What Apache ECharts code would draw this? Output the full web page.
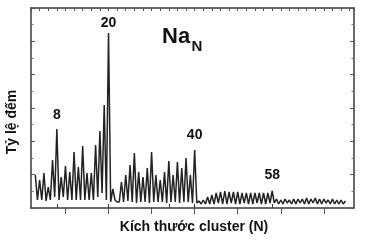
<!DOCTYPE html>
<html><head><meta charset="utf-8">
<script src="https://cdn.jsdelivr.net/npm/echarts@6/dist/echarts.min.js"></script>
<style>html,body{margin:0;padding:0;background:#fff}#c{width:365px;height:240px}</style>
</head><body><div id="c"></div>
<script>
// Cluster sizes N at the peaks and their counts (arbitrary units)
const peakSizes = [3,4,5,6,7,8,9,10,11,12,13,14,15,16,17,18,19,20,21,22,
  23,24,25,26,27,28,29,30,31,32,33,34,35,36,37,38,39,40,
  41,42,43,44,45,46,47,48,49,50,51,52,53,54,55,56,57,58,
  59,60,61,62,63,64,65,66,67,68,69,70,71,72,73,74,75];
const peakCounts = [33,28,35,21,48,79,31,42,36,56,41,62,35,35,63,77,103,175,19,6,
  26,33,43,55,36,31,40,56,33,28,36,47,33,46,40,50,33,58,
  7,8,11,13,15,16,17,16,16,16,15,15,15,15,15,15,15,17,
  9,8,9,8,9,9,9,10,9,10,9,9,8,9,8,8,7];
// Minima between neighbouring peaks
const troughSizes = [3.5,4.5,5.5,6.5,7.5,8.5,9.5,10.5,11.5,12.5,13.5,14.5,15.5,16.5,17.5,18.5,19.5,20.5,21.5,22.5,
  23.5,24.5,25.5,26.5,27.5,28.5,29.5,30.5,31.5,32.5,33.5,34.5,35.5,36.5,37.5,38.5,39.5,
  40.5,41.5,42.5,43.5,44.5,45.5,46.5,47.5,48.5,49.5,50.5,51.5,52.5,53.5,54.5,55.5,56.5,57.5,
  58.5,59.5,60.5,61.5,62.5,63.5,64.5,65.5,66.5,67.5,68.5,69.5,70.5,71.5,72.5,73.5,74.5];
const troughCounts = [8,8,7,8,11,8,11,8,8,8,8,8,8,8,11,15,8,6,8,6,
  6,7,6,5,6,6,5,6,6,6,5,6,6,5,6,6,5,
  5,4,4,4,4,5,4,4,5,4,4,5,4,4,5,4,4,5,
  5,4,4,5,4,4,5,4,4,5,4,4,5,4,4,4,4];
// Annotated magic numbers
const magicLabels = ['8','20','40','58'];
const magicSizes = [8,20,40,58];
const bottomTicks = [8,20,34,40,58];
const topMajorTicks = [10,20,30,40,50,60,70];

const pts = [];
peakSizes.forEach((n,i)=>pts.push([n, peakCounts[i]]));
troughSizes.forEach((n,i)=>pts.push([n, troughCounts[i]]));
pts.sort((a,b)=>a[0]-b[0]);

const labelOffsets = [-14,-10,-15,-16];
const mp = magicSizes.map((n,i)=>({
  coord:[n, peakCounts[peakSizes.indexOf(n)]],
  value: magicLabels[i],
  label:{offset:[0, labelOffsets[i]]}
}));

const frame = {color:'#3a3a3a', width:1.5};
const font = '"Liberation Sans", Arial, sans-serif';
const chart = echarts.init(document.getElementById('c'), null, {renderer:'canvas'});
chart.setOption({
  animation:false,
  grid:{left:31, right:11, top:8, bottom:32},
  xAxis:[
    {type:'value', position:'bottom', min:2, max:77,
     axisLine:{show:true, lineStyle:frame},
     axisTick:{show:true, inside:true, length:4, customValues:bottomTicks, lineStyle:{color:'#3a3a3a', width:1}},
     axisLabel:{show:false}, splitLine:{show:false}},
    {type:'value', position:'top', min:2, max:77, interval:2,
     axisLine:{show:true, onZero:false, lineStyle:frame},
     axisTick:{show:true, inside:true, length:3, lineStyle:{color:'#555', width:1}},
     axisLabel:{show:false}, splitLine:{show:false}},
    {type:'value', position:'top', min:2, max:77,
     axisLine:{show:false},
     axisTick:{show:true, inside:true, length:6, customValues:topMajorTicks, lineStyle:{color:'#555', width:1}},
     axisLabel:{show:false}, splitLine:{show:false}}
  ],
  yAxis:[
    {type:'value', position:'left', min:0, max:200, interval:200/6,
     axisLine:{show:true, lineStyle:frame},
     axisTick:{show:true, inside:true, length:4, lineStyle:{color:'#555', width:1}},
     minorTick:{show:true, splitNumber:2, length:2.5, lineStyle:{color:'#777', width:1}},
     axisLabel:{show:false}, splitLine:{show:false}},
    {type:'value', position:'right', min:0, max:200, interval:200/6,
     axisLine:{show:true, lineStyle:frame},
     axisTick:{show:true, inside:true, length:4, lineStyle:{color:'#555', width:1}},
     minorTick:{show:true, splitNumber:2, length:2.5, lineStyle:{color:'#777', width:1}},
     axisLabel:{show:false}, splitLine:{show:false}}
  ],
  series:[{
    type:'line', xAxisIndex:0, yAxisIndex:0, data:pts, symbol:'none',
    lineStyle:{color:'#222', width:1.5},
    markPoint:{
      symbol:'circle', symbolSize:1, itemStyle:{color:'rgba(0,0,0,0)'},
      label:{show:true, position:'inside', formatter:'{c}', color:'#111',
        fontFamily:font, fontWeight:'bold', fontSize:14},
      data:mp
    }
  }],
  graphic:[
    {type:'text', x:162, y:37, style:{text:'Na', font:'bold 22px '+font, fill:'#111', textVerticalAlign:'middle'}},
    {type:'text', x:191.5, y:47, style:{text:'N', font:'bold 15px '+font, fill:'#111', textVerticalAlign:'middle'}},
    {type:'text', x:194, y:227, style:{text:'Kích thước cluster (N)', font:'bold 14px '+font, fill:'#111', textAlign:'center', textVerticalAlign:'middle'}},
    {type:'text', x:12, y:122, rotation:Math.PI/2, style:{text:'Tỷ lệ đếm', font:'bold 14px '+font, fill:'#111', textAlign:'center', textVerticalAlign:'middle'}}
  ]
});
</script></body></html>
